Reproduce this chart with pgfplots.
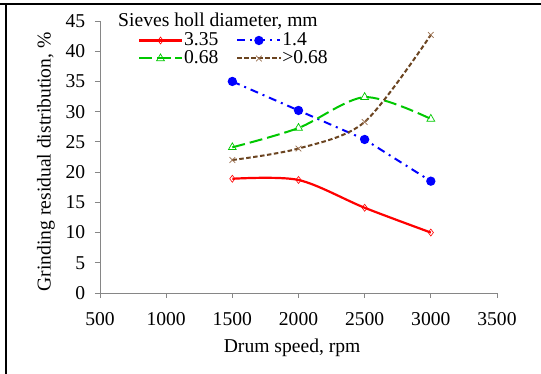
\documentclass[border=0pt]{standalone}
\usepackage{fontspec}
\setmainfont{Liberation Serif}
\usepackage{pgfplots}
\pgfplotsset{compat=1.18}
\definecolor{axisgray}{HTML}{868686}
\definecolor{cred}{HTML}{FF0000}
\definecolor{cblue}{HTML}{0000FF}
\definecolor{cgreen}{HTML}{00C800}
\definecolor{cbrown}{HTML}{6B4420}
\definecolor{cbrownm}{HTML}{9A7050}
\newcommand{\myfont}{\fontsize{19.6}{23.5}\selectfont}
\begin{document}
\myfont
\begin{tikzpicture}
\path[use as bounding box] (0,0) rectangle (541pt,374pt);
\fill[white] (0,0) rectangle (541pt,374pt);
\draw[line width=2.4pt] (0,370pt) -- (541pt,370pt);
\draw[line width=2.4pt] (5.8pt,0) -- (5.8pt,371.2pt);
\node[anchor=base west, inner sep=0pt, font=\myfont] at (118pt,347pt) {Sieves holl diameter, mm};
\begin{axis}[
  at={(100pt,81pt)}, anchor=south west,
  scale only axis, width=397pt, height=272pt,
  xmin=500, xmax=3500, ymin=0, ymax=45,
  xtick={500,1000,...,3500}, ytick={0,5,...,45},
  axis x line=bottom, axis y line=left,
  axis line style={draw=axisgray, line width=0.9pt, -},
  tick style={draw=axisgray, line width=0.9pt},
  major tick length=5pt, tick align=outside,
  /pgf/number format/1000 sep={},
  /pgf/number format/assume math mode=true,
  tick label style={font=\myfont, text=black},
  xticklabel style={yshift=-8pt},
  yticklabel style={xshift=-3pt},
  label style={font=\myfont},
  xlabel={Drum speed, rpm},
  ylabel={Grinding residual distribution, \%},
  every axis x label/.style={at={(rel axis cs:0.484,-0.202)}, anchor=center},
  every axis y label/.style={at={(rel axis cs:-0.136,0.482)}, anchor=center, rotate=90},
  legend columns=2,
  legend cell align=left,
  legend style={draw=none, fill=none, at={(0.095,0.962)}, anchor=north west,
    inner sep=0pt, row sep=0pt, font=\myfont,
    nodes={inner sep=1pt},
    /tikz/every even column/.append style={column sep=17pt}},
  legend image code/.code={\draw[mark repeat=2,mark phase=2] plot coordinates {(0pt,0pt) (21.5pt,0pt) (43pt,0pt)};},
]
\addplot[cred, line width=2.2pt, smooth, mark=diamond, mark size=3.5pt,
  mark options={solid, line width=0.6pt, fill=white, draw=cred}]
  coordinates {(1500,18.9) (2000,18.7) (2500,14.1) (3000,10.0)};
\addlegendentry{3.35}
\addplot[cblue, line width=2pt, dash pattern=on 8pt off 5pt on 2pt off 5pt, mark=*, mark size=3.6pt,
  mark options={solid, fill=cblue, draw=cblue}]
  coordinates {(1500,35.0) (2000,30.2) (2500,25.4) (3000,18.5)};
\addlegendentry{1.4}
\addplot[cgreen, line width=2pt, smooth, dash pattern=on 13pt off 5pt, mark=triangle, mark size=4.5pt,
  mark options={solid, line width=0.7pt, fill=white, draw=cgreen}]
  coordinates {(1500,24.1) (2000,27.3) (2500,32.4) (3000,28.8)};
\addlegendentry{0.68}
\addplot[cbrown, line width=2pt, smooth, dash pattern=on 4.5pt off 2.5pt, mark=x, mark size=4pt,
  mark options={solid, line width=0.7pt, draw=cbrownm}]
  coordinates {(1500,22.0) (2000,23.9) (2500,28.3) (3000,42.7)};
\addlegendentry{>0.68}
\end{axis}
\end{tikzpicture}
\end{document}
